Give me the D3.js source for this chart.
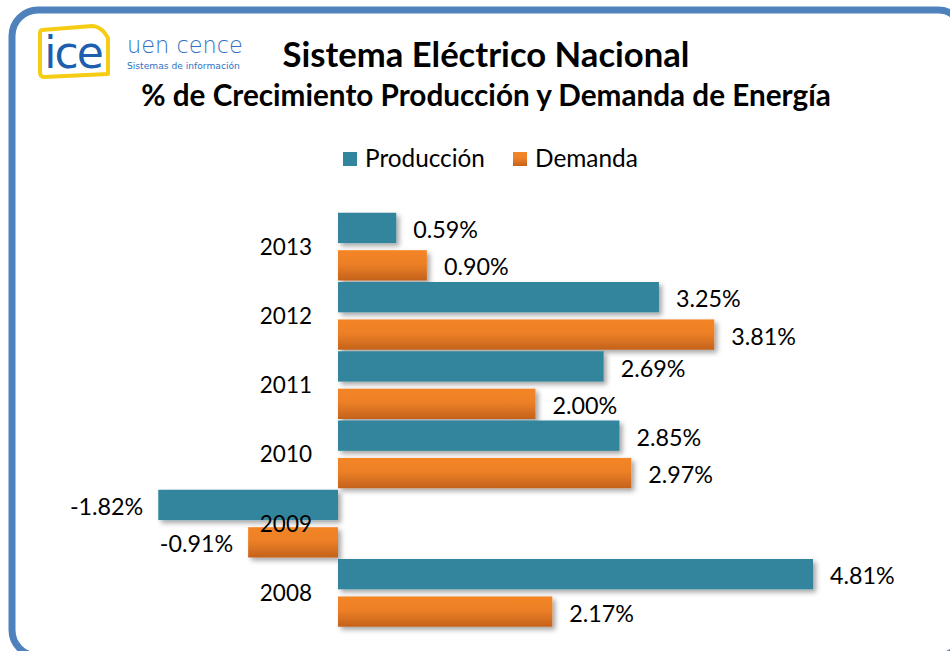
<!DOCTYPE html>
<html>
<head>
<meta charset="utf-8">
<script src="https://cdn.jsdelivr.net/npm/d3@7"></script>
<style>
  html, body { margin: 0; padding: 0; background: #fff; }
  svg { display: block; font-family: Lato, "Open Sans", sans-serif; }
</style>
</head>
<body>
<div id="chart"></div>
<script>
// data
var years = ["2013", "2012", "2011", "2010", "2009", "2008"];
var series = ["Producción", "Demanda"];
var produccion = [0.59, 3.25, 2.69, 2.85, -1.82, 4.81];
var demanda = [0.90, 3.81, 2.00, 2.97, -0.91, 2.17];
var seriesColors = ["#31859c", "url(#gradDemanda)"];

var W = 950, H = 651;

var svg = d3.select("#chart").append("svg")
    .attr("width", W)
    .attr("height", H);

var defs = svg.append("defs");

var grad = defs.append("linearGradient")
    .attr("id", "gradDemanda")
    .attr("x1", 0).attr("y1", 0).attr("x2", 0).attr("y2", 1);
grad.append("stop").attr("offset", "0%").attr("stop-color", "#f48528");
grad.append("stop").attr("offset", "45%").attr("stop-color", "#ed8026");
grad.append("stop").attr("offset", "100%").attr("stop-color", "#c4621c");

var shadow = defs.append("filter")
    .attr("id", "shadow")
    .attr("x", "-10%").attr("y", "-30%")
    .attr("width", "130%").attr("height", "180%");
shadow.append("feDropShadow")
    .attr("dx", 3).attr("dy", 3)
    .attr("stdDeviation", 2.5)
    .attr("flood-color", "#000")
    .attr("flood-opacity", 0.35);

//outer rounded frame
svg.append("rect")
    .attr("x", 12).attr("y", 10)
    .attr("width", 952).attr("height", 646)
    .attr("rx", 26).attr("ry", 26)
    .attr("fill", "none")
    .attr("stroke", "#4f81bd")
    .attr("stroke-width", 7);

//fit a text's font size to a target width
function fitText(sel, width){
    var node = sel.node();
    var fs = parseFloat(sel.attr("font-size"));
    var w = node.getComputedTextLength();
    sel.attr("font-size", fs * width / w);
    return sel;
}

//logo
var logo = svg.append("g");
logo.append("path")
    .attr("d", "M42,30 L92,26 Q98,26 104,32 L108,38 L108,74 L44,77 Q40,77 40,72 L40,34 Q40,30 42,30 Z")
    .attr("fill", "#fff")
    .attr("stroke", "#f5cd14")
    .attr("stroke-width", 4)
    .attr("stroke-linejoin", "round");
logo.append("text")
    .attr("x", 73).attr("y", 68)
    .attr("text-anchor", "middle")
    .attr("font-family", "DejaVu Sans")
    .attr("font-size", 44)
    .attr("letter-spacing", -2)
    .attr("fill", "#1b5fae")
    .text("ice");
var uen = logo.append("text")
    .attr("x", 127).attr("y", 53)
    .attr("font-family", "DejaVu Sans")
    .attr("font-weight", 300)
    .attr("font-size", 22)
    .attr("fill", "#2f72c4")
    .text("uen cence");
fitText(uen, 116);
var sis = logo.append("text")
    .attr("x", 127).attr("y", 69)
    .attr("font-family", "DejaVu Sans")
    .attr("font-size", 10)
    .attr("fill", "#2f72c4")
    .text("Sistemas de información");
fitText(sis, 113);

//titles
var title = svg.append("text")
    .attr("x", 486).attr("y", 67)
    .attr("text-anchor", "middle")
    .attr("font-weight", "bold")
    .attr("font-size", 30)
    .attr("fill", "#000")
    .text("Sistema Eléctrico Nacional");
fitText(title, 407);

var subtitle = svg.append("text")
    .attr("x", 486).attr("y", 106)
    .attr("text-anchor", "middle")
    .attr("font-weight", "bold")
    .attr("font-size", 24)
    .attr("fill", "#000")
    .text("% de Crecimiento Producción y Demanda de Energía");
fitText(subtitle, 690);

//legend
var legendX = [343, 513];
var legendW = [120, 103];
var legend = svg.append("g");
series.forEach(function(s, i){
    legend.append("rect")
        .attr("x", legendX[i]).attr("y", 152)
        .attr("width", 14).attr("height", 14)
        .attr("fill", seriesColors[i]);
    var t = legend.append("text")
        .attr("x", legendX[i] + 22).attr("y", 167)
        .attr("font-size", 21)
        .attr("fill", "#000")
        .text(s);
    fitText(t, legendW[i]);
});

//scales
var x = d3.scaleLinear().domain([-2, 5]).range([140.5, 831.75]);
var y0 = d3.scaleBand().domain(years).range([212, 627.5]);
var y1 = d3.scaleBand().domain(series).range([0, y0.bandwidth()])
    .paddingInner(0.19).paddingOuter(0.02);

var rows = years.map(function(yr, i){
    return {year: yr, values: [
        {s: series[0], v: produccion[i], c: seriesColors[0]},
        {s: series[1], v: demanda[i], c: seriesColors[1]}
    ]};
});

var plot = svg.append("g");

var groups = plot.selectAll("g.year")
    .data(rows)
    .enter()
    .append("g")
    .attr("class", "year")
    .attr("transform", function(d){ return "translate(0," + y0(d.year) + ")"; });

groups.selectAll("rect")
    .data(function(d){ return d.values; })
    .enter()
    .append("rect")
    .attr("x", function(d){ return x(Math.min(0, d.v)); })
    .attr("y", function(d){ return y1(d.s); })
    .attr("width", function(d){ return Math.abs(x(d.v) - x(0)); })
    .attr("height", y1.bandwidth())
    .attr("fill", function(d){ return d.c; })
    .attr("filter", "url(#shadow)");

//zero axis
plot.append("line")
    .attr("x1", x(0)).attr("x2", x(0))
    .attr("y1", 212).attr("y2", 628)
    .attr("stroke", "#8a8a8a")
    .attr("stroke-width", 1.5)
    .attr("filter", "url(#shadow)");

//data labels
var fmt = function(v){ return v.toFixed(2) + "%"; };
groups.selectAll("text.val")
    .data(function(d){ return d.values; })
    .enter()
    .append("text")
    .attr("class", "val")
    .attr("x", function(d){ return d.v >= 0 ? x(d.v) + 17 : x(d.v) - 15; })
    .attr("y", function(d){ return y1(d.s) + y1.bandwidth() / 2 + 2; })
    .attr("dy", "0.35em")
    .attr("text-anchor", function(d){ return d.v >= 0 ? "start" : "end"; })
    .attr("font-size", 23.3)
    .attr("fill", "#000")
    .text(function(d){ return fmt(d.v); });

//year labels (drawn on top)
var yAxis = d3.axisLeft(y0).tickSize(0).tickPadding(0);
var ya = svg.append("g")
    .attr("transform", "translate(312,0)")
    .call(yAxis);
ya.select(".domain").remove();
ya.selectAll("text")
    .attr("font-family", "Lato")
    .attr("font-size", 22.5)
    .attr("fill", "#000")
    .attr("dy", "0.35em");
</script>
</body>
</html>
